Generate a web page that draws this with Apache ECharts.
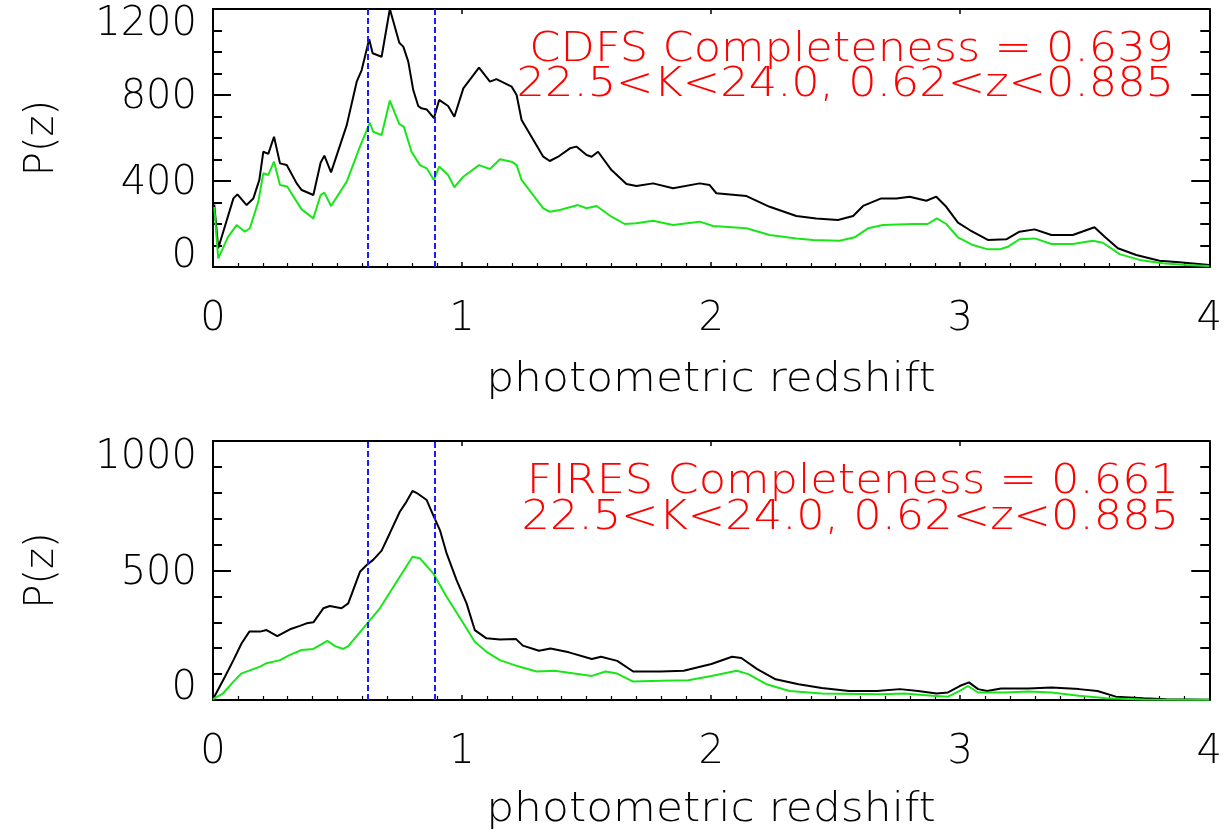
<!DOCTYPE html>
<html>
<head>
<meta charset="utf-8">
<script src="https://cdn.jsdelivr.net/npm/echarts@6/dist/echarts.min.js"></script>
<style>
html,body{margin:0;padding:0;background:#fff;}
#c{width:1225px;height:830px;}
</style>
</head>
<body>
<div id="c"></div>
<script>
// ---- data ----
var xTicks = [0, 1, 2, 3, 4];
var cdfsYTicks = [0, 400, 800, 1200];
var firesYTicks = [0, 500, 1000];
var zRange = [0.62, 0.885];

var cdfsBlackZ = [0.005,0.021,0.082,0.098,0.135,0.162,0.186,0.202,0.222,0.245,0.269,0.296,0.336,0.356,0.403,0.432,0.447,0.474,0.537,0.577,0.597,0.627,0.641,0.677,0.710,0.748,0.764,0.784,0.804,0.824,0.837,0.858,0.887,0.908,0.944,0.969,1.005,1.068,1.112,1.138,1.199,1.219,1.239,1.326,1.352,1.386,1.433,1.459,1.500,1.520,1.546,1.600,1.660,1.700,1.767,1.847,1.954,1.994,2.021,2.142,2.235,2.342,2.422,2.509,2.570,2.610,2.683,2.744,2.797,2.864,2.904,2.944,2.991,3.038,3.111,3.185,3.238,3.299,3.366,3.452,3.539,3.580,3.633,3.707,3.800,3.880,4.000];
var cdfsBlack = [290,87,319,338,288,319,405,536,526,606,482,474,389,358,335,485,518,440,660,862,916,1059,994,978,1200,1043,1025,955,823,749,738,733,692,777,749,699,831,927,862,874,839,800,684,513,493,513,552,560,521,513,536,451,386,377,389,366,389,381,343,330,280,237,226,219,237,284,319,319,327,308,327,280,206,172,126,129,164,175,149,149,185,141,87,56,29,22,9];

var cdfsGreenZ = [0.005,0.021,0.061,0.095,0.128,0.148,0.182,0.202,0.222,0.245,0.269,0.298,0.336,0.356,0.403,0.432,0.447,0.474,0.537,0.590,0.630,0.643,0.677,0.710,0.748,0.766,0.797,0.831,0.858,0.887,0.908,0.944,0.969,1.005,1.068,1.112,1.152,1.199,1.219,1.239,1.326,1.352,1.392,1.466,1.500,1.540,1.600,1.653,1.700,1.767,1.847,1.954,2.008,2.142,2.235,2.342,2.409,2.516,2.576,2.630,2.690,2.810,2.870,2.906,2.944,2.991,3.051,3.111,3.158,3.191,3.238,3.299,3.366,3.452,3.532,3.573,3.640,3.720,3.813,3.907,4.000];
var cdfsGreen = [280,40,141,195,164,180,304,436,428,490,381,374,304,268,226,335,346,284,397,560,671,629,614,774,665,653,536,474,459,405,467,428,371,420,474,456,501,490,474,405,273,257,265,288,273,284,234,200,203,215,195,211,191,180,149,133,126,122,138,180,195,200,200,226,200,138,102,82,82,94,129,133,107,107,122,113,60,33,17,9,5];

var firesBlackZ = [0.000,0.048,0.082,0.115,0.146,0.189,0.215,0.258,0.309,0.349,0.376,0.403,0.443,0.469,0.516,0.543,0.590,0.617,0.643,0.677,0.710,0.750,0.777,0.801,0.817,0.858,0.884,0.911,0.938,0.978,1.018,1.051,1.098,1.152,1.216,1.244,1.309,1.355,1.429,1.521,1.558,1.623,1.687,1.798,1.890,2.001,2.084,2.121,2.185,2.259,2.351,2.444,2.554,2.665,2.758,2.831,2.905,2.951,2.998,3.035,3.072,3.108,3.164,3.274,3.367,3.477,3.551,3.625,3.736,3.828,4.000];
var firesBlack = [3,90,154,219,264,264,270,247,273,286,296,300,354,363,354,373,495,521,541,577,644,727,766,807,800,772,714,656,566,463,373,270,238,234,236,210,190,199,184,158,167,151,110,110,113,139,167,162,119,80,61,46,35,35,42,35,25,29,54,68,42,35,44,44,48,42,35,13,7,3,1];

var firesGreenZ = [0.000,0.041,0.082,0.115,0.189,0.215,0.269,0.309,0.356,0.403,0.459,0.490,0.523,0.543,0.617,0.670,0.750,0.801,0.831,0.884,0.938,1.005,1.051,1.098,1.152,1.225,1.299,1.372,1.521,1.576,1.623,1.687,1.798,1.908,2.001,2.103,2.149,2.222,2.315,2.444,2.683,2.776,2.887,2.951,2.998,3.031,3.072,3.182,3.274,3.367,3.477,3.588,3.736,4.000];
var firesGreen = [3,26,71,103,129,142,154,174,193,197,228,208,197,208,293,354,476,553,547,489,399,296,225,186,154,130,110,113,93,110,102,71,74,76,93,113,100,61,35,25,22,25,16,13,35,54,29,29,33,29,16,7,2,1];

var cdfsText = ['CDFS Completeness = 0.639', '22.5<K<24.0, 0.62<z<0.885'];
var firesText = ['FIRES Completeness = 0.661', '22.5<K<24.0, 0.62<z<0.885'];
var xTitle = 'photometric redshift';
var yTitle = 'P(z)';

// ---- helpers ----
function pairs(zs, vs){ var out=[]; for(var i=0;i<zs.length;i++) out.push([zs[i], vs[i]]); return out; }
var FONT = "'DejaVu Sans', sans-serif";
var FW = 200;

function mainX(gi){
  return {
    type:'value', gridIndex:gi, min:xTicks[0], max:xTicks[xTicks.length-1], interval:1,
    position:'bottom',
    axisLine:{show:true, onZero:false, lineStyle:{color:'#000', width:2}},
    axisTick:{show:true, inside:true, length:5, lineStyle:{color:'#000', width:1.5}},
    minorTick:{show:true, splitNumber:10, length:4, lineStyle:{color:'#000', width:1.2}},
    splitLine:{show:false}, minorSplitLine:{show:false},
    axisLabel:{show:true, margin:33, color:'#000', fontSize:40, fontFamily:FONT, fontWeight:FW}
  };
}
function topX(gi){
  return {
    type:'value', gridIndex:gi, min:0, max:4, interval:1, position:'top',
    axisLine:{show:true, onZero:false, lineStyle:{color:'#000', width:2}},
    axisTick:{show:true, inside:true, length:5, lineStyle:{color:'#000', width:1.5}},
    minorTick:{show:false}, splitLine:{show:false}, axisLabel:{show:false}
  };
}
function richStyle(pad){ return {fontSize:40, fontFamily:FONT, fontWeight:FW, color:'#000', padding:pad}; }
function leftY(gi, ticks, shifts){
  var mx = ticks[ticks.length-1], iv = ticks[1]-ticks[0];
  return {
    type:'value', gridIndex:gi, min:0, max:mx, interval:iv, position:'left',
    axisLine:{show:true, onZero:false, lineStyle:{color:'#000', width:2}},
    axisTick:{show:true, inside:true, length:18, lineStyle:{color:'#000', width:2}},
    minorTick:{show:true, splitNumber:iv/100, length:9, lineStyle:{color:'#000', width:2}},
    splitLine:{show:false}, minorSplitLine:{show:false},
    axisLabel:{show:true, margin:16, color:'#000', fontSize:40, fontFamily:FONT, fontWeight:FW,
      formatter:function(v){ return '{' + shifts(v) + '|' + v + '}'; },
      rich:{
        up:richStyle([0,0,20,0]),
        up2:richStyle([0,0,22,0]),
        dn:richStyle([6,0,0,0]),
        dn2:richStyle([32,0,0,0]),
        dn3:richStyle([34,0,0,0])
      }},
    name:yTitle, nameLocation:'middle', nameGap:150, nameRotate:90,
    nameTextStyle:{color:'#000', fontSize:40, fontFamily:FONT, fontWeight:FW}
  };
}
function rightY(gi, ticks){
  var mx = ticks[ticks.length-1], iv = ticks[1]-ticks[0];
  return {
    type:'value', gridIndex:gi, min:0, max:mx, interval:iv, position:'right',
    axisLine:{show:true, onZero:false, lineStyle:{color:'#000', width:2}},
    axisTick:{show:true, inside:true, length:18, lineStyle:{color:'#000', width:2}},
    minorTick:{show:true, splitNumber:iv/100, length:9, lineStyle:{color:'#000', width:2}},
    splitLine:{show:false}, axisLabel:{show:false}
  };
}
function zLines(){
  return {
    silent:true, symbol:['none','none'], label:{show:false},
    lineStyle:{color:'#1a1aff', width:2, type:[6,3]},
    data: zRange.map(function(z){ return {xAxis:z}; })
  };
}
function curve(xi, yi, data, color, withMark){
  var s = {type:'line', xAxisIndex:xi, yAxisIndex:yi, data:data, showSymbol:false, symbol:'none',
    lineStyle:{color:color, width:2}, itemStyle:{color:color}, animation:false, z:3};
  if(withMark) s.markLine = zLines();
  return s;
}
function txt(s, x, y, align, color, sx){
  return {type:'text', x:x, y:y, scaleX:sx, silent:true,
    style:{text:s, fill:color, fontSize:41, fontFamily:FONT, fontWeight:FW, align:align, verticalAlign:'top'}};
}

var chart = echarts.init(document.getElementById('c'), null, {renderer:'canvas'});
chart.setOption({
  backgroundColor:'#fff',
  animation:false,
  grid:[
    {left:213, top:9, width:997, height:258},
    {left:213, top:441, width:997, height:259}
  ],
  xAxis:[mainX(0), topX(0), mainX(1), topX(1)],
  yAxis:[
    leftY(0, cdfsYTicks, function(v){ return v===0?'up':(v===1200?'dn2':'dn'); }),
    rightY(0, cdfsYTicks),
    leftY(1, firesYTicks, function(v){ return v===0?'up2':(v===1000?'dn3':'dn'); }),
    rightY(1, firesYTicks)
  ],
  series:[
    curve(0,0,pairs(cdfsBlackZ,cdfsBlack),'#000000',true),
    curve(0,0,pairs(cdfsGreenZ,cdfsGreen),'#19e619',false),
    curve(2,2,pairs(firesBlackZ,firesBlack),'#000000',true),
    curve(2,2,pairs(firesGreenZ,firesGreen),'#19e619',false)
  ],
  graphic:[
    txt(cdfsText[0], 1174, 30, 'right', '#ff0000', 1.09),
    txt(cdfsText[1], 1174, 65, 'right', '#ff0000', 1.09),
    txt(firesText[0], 1179, 462, 'right', '#ff0000', 1.09),
    txt(firesText[1], 1179, 498, 'right', '#ff0000', 1.09),
    {type:'text', x:711, y:361, scaleX:1.1, silent:true, style:{text:xTitle, fill:'#000', fontSize:40, fontFamily:FONT, fontWeight:FW, align:'center', verticalAlign:'top'}},
    {type:'text', x:711, y:791, scaleX:1.1, silent:true, style:{text:xTitle, fill:'#000', fontSize:40, fontFamily:FONT, fontWeight:FW, align:'center', verticalAlign:'top'}}
  ]
});
</script>
</body>
</html>
